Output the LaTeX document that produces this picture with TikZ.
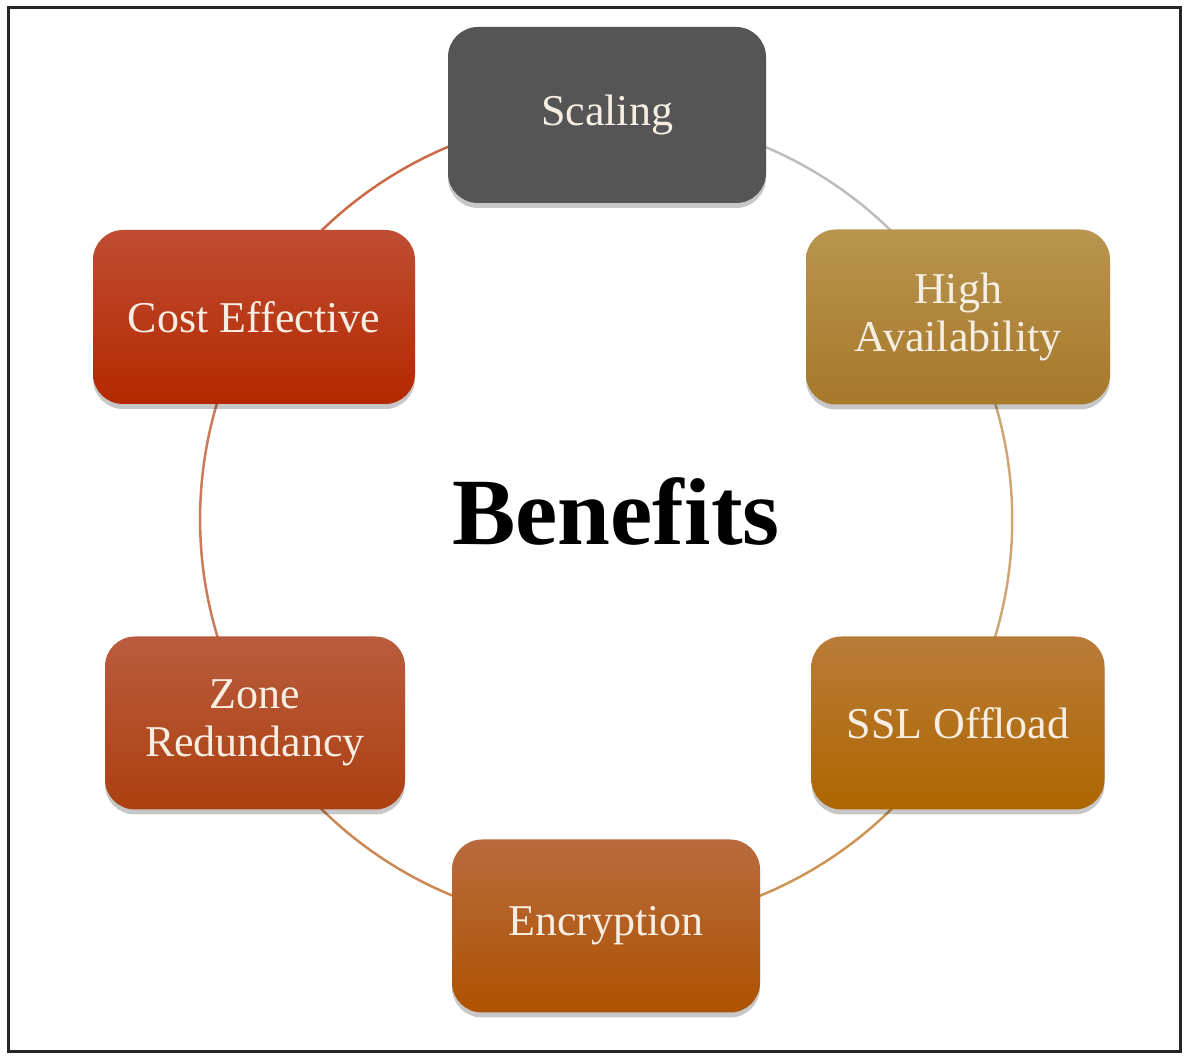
\documentclass[tikz,border=0pt]{standalone}
\usepackage{fontspec}
\setmainfont{Liberation Serif}
\usetikzlibrary{shadows,backgrounds}
\definecolor{scalc}{HTML}{555555}
\definecolor{hatop}{HTML}{B9954F}\definecolor{habot}{HTML}{A6782A}
\definecolor{ssltop}{HTML}{B97C38}\definecolor{sslbot}{HTML}{AD6600}
\definecolor{enctop}{HTML}{B96B3E}\definecolor{encbot}{HTML}{AE5200}
\definecolor{zontop}{HTML}{B95C3E}\definecolor{zonbot}{HTML}{AC4010}
\definecolor{costop}{HTML}{BF4D33}\definecolor{cosbot}{HTML}{B42800}
\definecolor{txtc}{HTML}{F6EEE2}
\definecolor{arcA}{HTML}{BDBDBD}
\definecolor{arcB}{HTML}{CFA777}
\definecolor{arcC}{HTML}{CC9555}
\definecolor{arcD}{HTML}{CC8855}
\definecolor{arcE}{HTML}{CC7A5A}
\definecolor{arcF}{HTML}{CC6A48}
\tikzset{
  benefit/.style={rounded corners=30pt, align=center, text=txtc,
    font=\fontsize{44}{48}\selectfont, inner sep=0pt,
    drop shadow={shadow xshift=0pt, shadow yshift=-5pt, opacity=0.22, fill=black}},
  ring/.style={line width=2.5pt, bend left=30, looseness=0.913}
}
\begin{document}
\begin{tikzpicture}[x=1pt,y=1pt]
\useasboundingbox (0,0) rectangle (1188,1057);
\draw[line width=3pt, black!85] (8,1049) rectangle (1180,6);

\node[benefit, fill=scalc, minimum width=318pt, minimum height=176pt] (scal) at (607,942) {Scaling};
\node[benefit, top color=hatop, bottom color=habot, minimum width=304pt, minimum height=175pt] (ha) at (958,740) {High\\Availability};
\node[benefit, top color=ssltop, bottom color=sslbot, minimum width=293pt, minimum height=173pt] (ssl) at (958,334) {SSL Offload};
\node[benefit, top color=enctop, bottom color=encbot, minimum width=308pt, minimum height=173pt] (enc) at (606,131) {Encryption};
\node[benefit, top color=zontop, bottom color=zonbot, minimum width=300pt, minimum height=173pt] (zone) at (255,334) {Zone\\Redundancy};
\node[benefit, top color=costop, bottom color=cosbot, minimum width=322pt, minimum height=174pt] (cost) at (254,740) {Cost Effective};

\node[font=\fontsize{95}{100}\selectfont\bfseries, text=black] (ben) at (616,545) {Benefits};

\begin{pgfonlayer}{background}
\draw[ring, arcA] (scal.center) to (ha.center);
\draw[ring, arcB] (ha.center) to (ssl.center);
\draw[ring, arcC] (ssl.center) to (enc.center);
\draw[ring, arcD] (enc.center) to (zone.center);
\draw[ring, arcE] (zone.center) to (cost.center);
\draw[ring, arcF] (cost.center) to (scal.center);
\end{pgfonlayer}
\end{tikzpicture}
\end{document}
